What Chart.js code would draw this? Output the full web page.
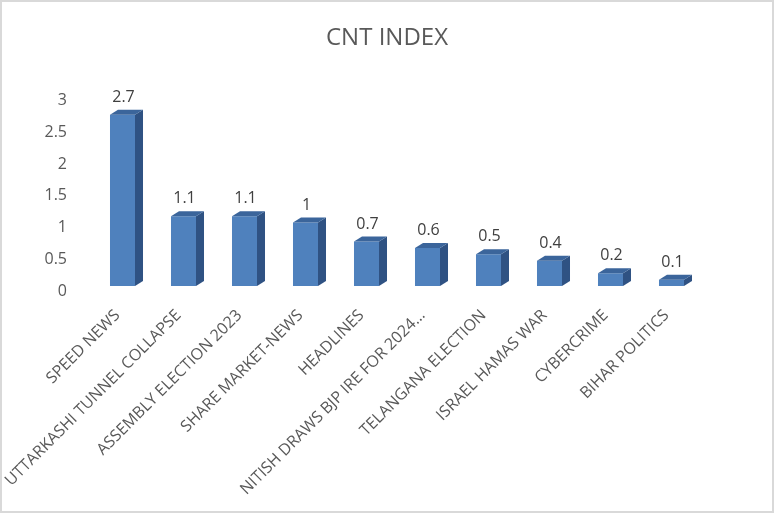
<!DOCTYPE html>
<html>
<head>
<meta charset="utf-8">
<script src="https://cdn.jsdelivr.net/npm/chart.js@4/dist/chart.umd.min.js"></script>
<style>
  html, body { margin: 0; padding: 0; background: #ffffff; }
  #wrap { position: relative; width: 774px; height: 513px; box-sizing: border-box; border: 2px solid #d9d9d9; }
  canvas { display: block; }
</style>
</head>
<body>
<div id="wrap"><canvas id="c" width="770" height="509"></canvas></div>
<script>
const chartTitle = "CNT INDEX";
const categories = [
  "SPEED NEWS",
  "UTTARKASHI TUNNEL COLLAPSE",
  "ASSEMBLY ELECTION 2023",
  "SHARE MARKET-NEWS",
  "HEADLINES",
  "NITISH DRAWS BJP IRE FOR 2024…",
  "TELANGANA ELECTION",
  "ISRAEL HAMAS WAR",
  "CYBERCRIME",
  "BIHAR POLITICS"
];
const cntIndex = [2.7, 1.1, 1.1, 1.0, 0.7, 0.6, 0.5, 0.4, 0.2, 0.1];
const yTicks = [0, 0.5, 1, 1.5, 2, 2.5, 3];

const FONT = "'Open Sans', 'Liberation Sans', sans-serif";
const DX = 8, DY = 5;

const bar3d = {
  id: 'bar3d',
  afterDatasetsDraw(chart) {
    const ctx = chart.ctx;
    const meta = chart.getDatasetMeta(0);
    ctx.save();
    meta.data.forEach((bar, i) => {
      const p = bar.getProps(['x', 'y', 'base', 'width'], true);
      const l = p.x - p.width / 2, r = p.x + p.width / 2;
      const top = p.y, bot = p.base;
      ctx.fillStyle = '#2f5283';
      ctx.beginPath();
      ctx.moveTo(r, top);
      ctx.lineTo(r + DX, top - DY);
      ctx.lineTo(r + DX, bot - DY);
      ctx.lineTo(r, bot);
      ctx.closePath();
      ctx.fill();
      ctx.fillStyle = '#3b659b';
      ctx.beginPath();
      ctx.moveTo(l, top);
      ctx.lineTo(l + DX, top - DY);
      ctx.lineTo(r + DX, top - DY);
      ctx.lineTo(r, top);
      ctx.closePath();
      ctx.fill();
      ctx.fillStyle = '#404040';
      ctx.font = "16px " + FONT;
      ctx.textAlign = 'center';
      ctx.textBaseline = 'alphabetic';
      ctx.fillText(String(cntIndex[i]), p.x + 1, top - 13);
    });
    ctx.restore();
  }
};

new Chart(document.getElementById('c'), {
  type: 'bar',
  data: {
    labels: categories,
    datasets: [{
      data: cntIndex,
      backgroundColor: '#4f81bd',
      borderWidth: 0,
      categoryPercentage: 1.0,
      barPercentage: 0.41
    }]
  },
  options: {
    responsive: false,
    animation: false,
    layout: { padding: { left: 0, right: 0, top: 0, bottom: 0 } },
    plugins: {
      legend: { display: false },
      tooltip: { enabled: false },
      title: {
        display: true,
        text: chartTitle,
        color: '#595959',
        font: { family: FONT, size: 24, weight: 'normal' },
        padding: { top: 22, bottom: 43 }
      }
    },
    scales: {
      x: {
        grid: { display: false },
        border: { display: false },
        ticks: {
          autoSkip: false,
          maxRotation: 45,
          minRotation: 45,
          color: '#595959',
          font: { family: FONT, size: 16 },
          padding: 12,
          labelOffset: -5
        },
        afterFit(s) { s.height = 509 - 284; }
      },
      y: {
        min: 0,
        max: 3,
        afterBuildTicks(s) { s.ticks = yTicks.map(v => ({ value: v })); },
        grid: { display: false },
        border: { display: false },
        ticks: {
          color: '#595959',
          font: { family: FONT, size: 16 },
          padding: 17,
          labelOffset: 5,
          callback: (v) => String(v)
        },
        afterFit(s) { s.width = 90; }
      },
      yRight: {
        position: 'right',
        min: 0,
        max: 3,
        grid: { display: false },
        border: { display: false },
        ticks: { display: false },
        afterFit(s) { s.width = 70; }
      }
    }
  },
  plugins: [bar3d]
});
</script>
</body>
</html>
